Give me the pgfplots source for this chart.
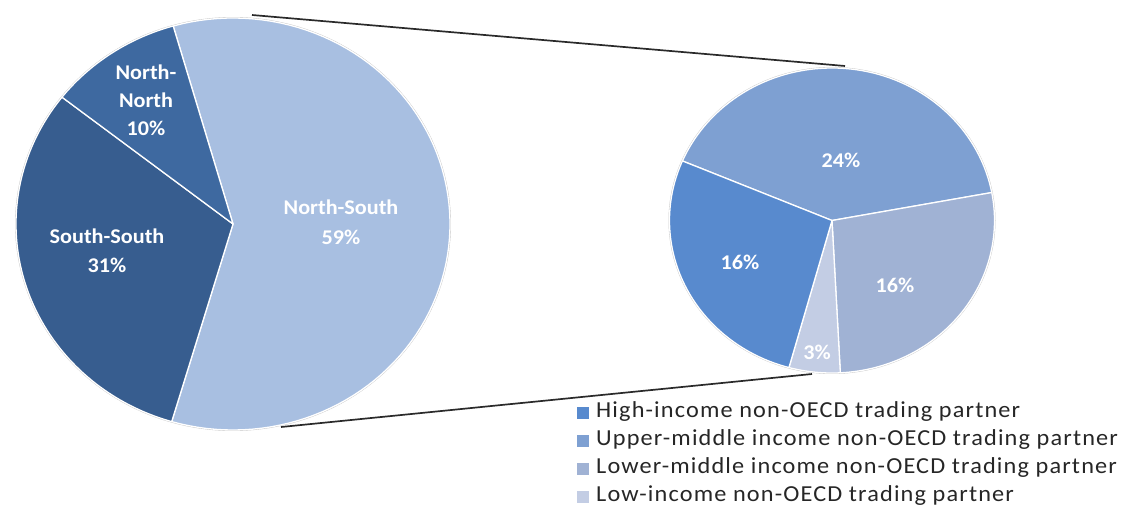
\documentclass[border=0pt]{standalone}
\usepackage{pgfplots}
\pgfplotsset{compat=1.18}
\usepackage{fontspec}
\setmainfont{Carlito}[FakeStretch=1.06]
\newfontfamily\legfont{Carlito}[FakeStretch=1.06,LetterSpace=5]
\definecolor{cNS}{HTML}{A8BFE1}
\definecolor{cSS}{HTML}{375D8F}
\definecolor{cNN}{HTML}{3E69A0}
\definecolor{cUM}{HTML}{7EA0D2}
\definecolor{cHigh}{HTML}{588ACE}
\definecolor{cLM}{HTML}{A0B2D4}
\definecolor{cLow}{HTML}{C3CDE4}
\definecolor{lineC}{HTML}{2A2A2A}
\definecolor{txtC}{HTML}{262626}
% pie slice drawn from a value: uses \cx,\cy,\rx,\ry,\total,\curangle
\newcommand\slice[2]{%
  \pgfmathsetmacro\aend{\curangle-(#1/\total)*360}%
  \edef\tmp{\noexpand\addplot[fill=#2,draw=white,line width=1.3pt,line join=round,domain=\aend:\curangle,samples=90]
    ({\cx+\rx*cos(x)},{\cy+\ry*sin(x)}) -- (axis cs:\cx,\cy) -- cycle;}%
  \tmp
  \xdef\curangle{\aend}%
}
\begin{document}
\begin{tikzpicture}
\begin{axis}[width=1124bp,height=508bp,scale only axis,
  xmin=0,xmax=1124,ymin=0,ymax=508,hide axis,clip=false]
\path (axis cs:0,0) rectangle (axis cs:1124,508);
% connector lines
\addplot[lineC,line width=1.7pt] coordinates {(252,493) (845,442)};
\addplot[lineC,line width=1.7pt] coordinates {(281,81) (812,134)};
% left pie
\gdef\cx{233}\gdef\cy{284}\gdef\rx{217}\gdef\ry{206}\gdef\total{100}\gdef\curangle{106}
\addplot[draw=gray!45,line width=2pt,domain=0:360,samples=180] ({233+217*cos(x)},{284+206*sin(x)});
\slice{59}{cNS}
\slice{31}{cSS}
\slice{10}{cNN}
% right pie
\gdef\cx{832}\gdef\cy{287.5}\gdef\rx{162.5}\gdef\ry{152.5}\gdef\total{59}\gdef\curangle{157}
\addplot[draw=gray!45,line width=2pt,domain=0:360,samples=180] ({832+162.5*cos(x)},{287.5+152.5*sin(x)});
\slice{24}{cUM}
\slice{16}{cLM}
\slice{3}{cLow}
\slice{16}{cHigh}
% labels
\tikzset{pl/.style={white,font=\bfseries\fontsize{21}{28}\selectfont,align=center}}
\node[pl] at (axis cs:146,408) {North-\\North\\10\%};
\node[pl,font=\bfseries\fontsize{21}{29}\selectfont] at (axis cs:107,257) {South-South\\31\%};
\node[pl,font=\bfseries\fontsize{21}{30}\selectfont] at (axis cs:341,286) {North-South\\59\%};
\node[pl] at (axis cs:841,348) {24\%};
\node[pl] at (axis cs:740,246) {16\%};
\node[pl] at (axis cs:895,223) {16\%};
\node[pl] at (axis cs:817,156) {3\%};
% legend
\tikzset{lt/.style={anchor=west,inner sep=0pt,text=txtC,font=\legfont\fontsize{23}{23}\selectfont}}
\fill[cHigh] (axis cs:577,101) rectangle (axis cs:589,89);
\node[lt] at (axis cs:596,95) {High-income non-OECD trading partner\strut};
\fill[cUM] (axis cs:577,73) rectangle (axis cs:589,61);
\node[lt] at (axis cs:596,67) {Upper-middle income non-OECD trading partner\strut};
\fill[cLM] (axis cs:577,45) rectangle (axis cs:589,33);
\node[lt] at (axis cs:596,39) {Lower-middle income non-OECD trading partner\strut};
\fill[cLow] (axis cs:577,17) rectangle (axis cs:589,5);
\node[lt] at (axis cs:596,11) {Low-income non-OECD trading partner\strut};
\end{axis}
\end{tikzpicture}
\end{document}
